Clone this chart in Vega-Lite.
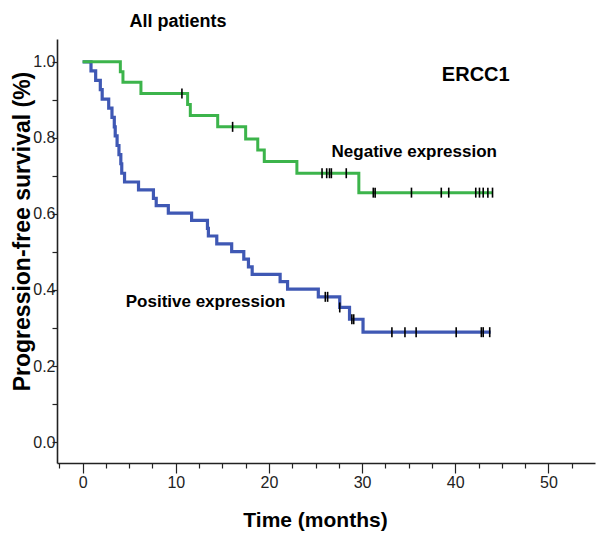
{
  "$schema": "https://vega.github.io/schema/vega-lite/v6.json",
  "width": 538,
  "height": 424,
  "autosize": "none",
  "padding": {"left": 57, "top": 39, "right": 5, "bottom": 75},
  "background": "white",
  "config": {"view": {"stroke": null}, "font": "Liberation Sans"},
  "title": {"text": "All patients", "font": "Liberation Sans", "fontSize": 18, "fontWeight": "bold", "color": "black", "anchor": "middle", "dx": -148, "dy": 21, "baseline": "alphabetic", "offset": 15},
  "datasets": {
    "neg": [
      {"t": 0, "s": 1.0}, {"t": 4.05, "s": 0.974}, {"t": 4.33, "s": 0.946}, {"t": 6.26, "s": 0.917},
      {"t": 11.27, "s": 0.888}, {"t": 11.56, "s": 0.859}, {"t": 14.5, "s": 0.829}, {"t": 17.5, "s": 0.797},
      {"t": 18.8, "s": 0.768}, {"t": 19.5, "s": 0.738}, {"t": 23.0, "s": 0.707}, {"t": 29.65, "s": 0.656},
      {"t": 44.0, "s": 0.656}
    ],
    "pos": [
      {"t": 0, "s": 1.0}, {"t": 0.9, "s": 0.976}, {"t": 1.4, "s": 0.951}, {"t": 1.9, "s": 0.927},
      {"t": 2.1, "s": 0.902}, {"t": 2.8, "s": 0.878}, {"t": 3.15, "s": 0.854}, {"t": 3.4, "s": 0.829},
      {"t": 3.5, "s": 0.805}, {"t": 3.7, "s": 0.780}, {"t": 3.9, "s": 0.756}, {"t": 4.1, "s": 0.732},
      {"t": 4.2, "s": 0.707}, {"t": 4.5, "s": 0.684}, {"t": 6.0, "s": 0.663}, {"t": 7.6, "s": 0.641},
      {"t": 7.9, "s": 0.622}, {"t": 9.2, "s": 0.602}, {"t": 11.7, "s": 0.583}, {"t": 13.4, "s": 0.562},
      {"t": 13.5, "s": 0.542}, {"t": 14.4, "s": 0.521}, {"t": 16.0, "s": 0.501}, {"t": 17.3, "s": 0.481},
      {"t": 17.8, "s": 0.461}, {"t": 18.2, "s": 0.441}, {"t": 21.2, "s": 0.422}, {"t": 22.0, "s": 0.402},
      {"t": 25.3, "s": 0.382}, {"t": 27.6, "s": 0.354}, {"t": 28.65, "s": 0.323}, {"t": 30.1, "s": 0.289},
      {"t": 43.8, "s": 0.289}
    ],
    "censor": [
      {"t": 10.66, "s": 0.917}, {"t": 16.1, "s": 0.829}, {"t": 25.7, "s": 0.707}, {"t": 26.2, "s": 0.707},
      {"t": 26.5, "s": 0.707}, {"t": 26.7, "s": 0.707}, {"t": 28.3, "s": 0.707}, {"t": 31.2, "s": 0.656},
      {"t": 31.4, "s": 0.656}, {"t": 35.3, "s": 0.656}, {"t": 38.5, "s": 0.656}, {"t": 39.3, "s": 0.656},
      {"t": 42.2, "s": 0.656}, {"t": 42.6, "s": 0.656}, {"t": 43.0, "s": 0.656}, {"t": 43.5, "s": 0.656},
      {"t": 44.0, "s": 0.656},
      {"t": 26.05, "s": 0.382}, {"t": 26.3, "s": 0.382}, {"t": 27.6, "s": 0.354}, {"t": 28.9, "s": 0.323},
      {"t": 29.1, "s": 0.323}, {"t": 33.2, "s": 0.289}, {"t": 34.6, "s": 0.289}, {"t": 35.8, "s": 0.289},
      {"t": 40.1, "s": 0.289}, {"t": 42.8, "s": 0.289}, {"t": 43.0, "s": 0.289}, {"t": 43.7, "s": 0.289}
    ],
    "labels": [
      {"t": 35.6, "s": 0.763, "text": "Negative expression"},
      {"t": 13.2, "s": 0.368, "text": "Positive expression"}
    ],
    "marker": [
      {"t": 42.2, "s": 0.966, "text": "ERCC1"}
    ]
  },
  "encoding": {
    "x": {
      "field": "t", "type": "quantitative",
      "scale": {"domain": [-2.75, 55], "nice": false, "zero": false},
      "axis": {
        "values": [-2.5, 0, 2.5, 5, 7.5, 10, 12.5, 15, 17.5, 20, 22.5, 25, 27.5, 30, 32.5, 35, 37.5, 40, 42.5, 45, 47.5, 50, 52.5],
        "labelExpr": "datum.value % 10 === 0 ? datum.label : ''",
        "tickSize": {"condition": {"test": "datum.value % 10 === 0", "value": 10}, "value": 5},
        "tickColor": "#222", "tickWidth": 1.2,
        "domainColor": "#222", "domainWidth": 1.6,
        "labelFont": "Liberation Sans", "labelFontSize": 16, "labelColor": "#222", "labelPadding": 1,
        "labelFlush": false, "labelOverlap": false, "grid": false,
        "title": "Time (months)", "titleFont": "Liberation Sans", "titleFontSize": 21, "titleFontWeight": "bold",
        "titleColor": "black", "titleX": 258, "titleY": 57, "titleAlign": "center", "titleBaseline": "middle"
      }
    },
    "y": {
      "field": "s", "type": "quantitative",
      "scale": {"domain": [-0.055, 1.06], "nice": false, "zero": false},
      "axis": {
        "values": [0, 0.1, 0.2, 0.3, 0.4, 0.5, 0.6, 0.7, 0.8, 0.9, 1.0],
        "labelExpr": "round(datum.value * 10) % 2 === 0 ? format(datum.value, '.1f') : ''",
        "tickSize": 5, "tickColor": "#222", "tickWidth": 1.2,
        "domainColor": "#222", "domainWidth": 1.6,
        "labelFont": "Liberation Sans", "labelFontSize": 16, "labelColor": "#222", "labelPadding": -3,
        "labelFlush": false, "labelOverlap": false, "grid": false,
        "title": "Progression-free survival (%)", "titleFont": "Liberation Sans", "titleFontSize": 23,
        "titleFontWeight": "bold", "titleColor": "black", "titleX": -35, "titleY": 192,
        "titleAngle": -90, "titleAlign": "center", "titleBaseline": "middle"
      }
    }
  },
  "layer": [
    {"data": {"name": "pos"}, "mark": {"type": "line", "interpolate": "step-after", "color": "#3f58b4", "strokeWidth": 3.2}},
    {"data": {"name": "neg"}, "mark": {"type": "line", "interpolate": "step-after", "color": "#3cb44b", "strokeWidth": 3}},
    {"data": {"name": "censor"}, "mark": {"type": "tick", "orient": "vertical", "size": 10, "thickness": 1.6, "color": "black", "opacity": 1}},
    {"data": {"name": "labels"}, "mark": {"type": "text", "font": "Liberation Sans", "fontSize": 17, "fontWeight": "bold", "color": "black", "align": "center", "baseline": "middle"}, "encoding": {"text": {"field": "text"}}},
    {"data": {"name": "marker"}, "mark": {"type": "text", "font": "Liberation Sans", "fontSize": 20, "fontWeight": "bold", "color": "black", "align": "center", "baseline": "middle"}, "encoding": {"text": {"field": "text"}}}
  ]
}
